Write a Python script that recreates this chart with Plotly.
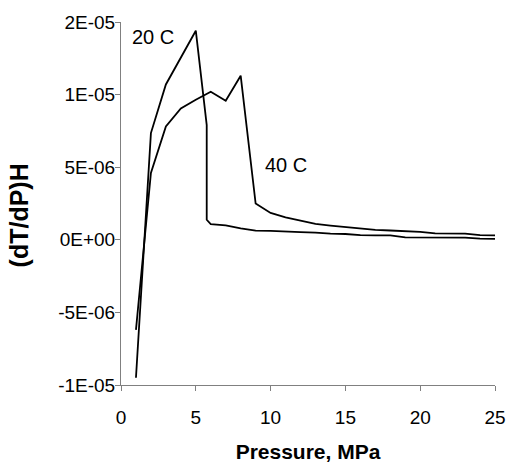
import plotly.graph_objects as go

# Pressure values (MPa)
p20 = [1, 2, 3, 4, 5, 5.73, 5.73, 6, 7, 8, 9, 10, 11, 12, 13, 14, 15, 16, 17, 18, 19, 20, 21, 22, 23, 24, 25]
jt20 = [-9.5e-6, 7.35e-6, 10.7e-6, 12.6e-6, 14.4e-6, 7.9e-6, 1.38e-6, 1.08e-6, 0.99e-6, 0.78e-6, 0.63e-6,
        0.62e-6, 0.60e-6, 0.53e-6, 0.50e-6, 0.42e-6, 0.40e-6, 0.32e-6, 0.31e-6, 0.30e-6, 0.17e-6,
        0.16e-6, 0.16e-6, 0.15e-6, 0.15e-6, 0.08e-6, 0.07e-6]

p40 = [1, 2, 3, 4, 5, 6, 7, 8, 9, 10, 11, 12, 13, 14, 15, 16, 17, 18, 19, 20, 21, 22, 23, 24, 25]
jt40 = [-6.2e-6, 4.6e-6, 7.8e-6, 9.05e-6, 9.65e-6, 10.2e-6, 9.58e-6, 11.3e-6, 2.5e-6, 1.85e-6, 1.55e-6,
        1.3e-6, 1.1e-6, 0.98e-6, 0.88e-6, 0.78e-6, 0.68e-6, 0.64e-6, 0.62e-6, 0.55e-6, 0.44e-6,
        0.43e-6, 0.42e-6, 0.32e-6, 0.30e-6]

y_tickvals = [-1e-5, -5e-6, 0, 5e-6, 1e-5, 1.5e-5]
y_ticktext = ["-1E-05", "-5E-06", "0E+00", "5E-06", "1E-05", "2E-05"]
x_tickvals = [0, 5, 10, 15, 20, 25]

FONT = "Liberation Sans, Arial, sans-serif"

fig = go.Figure()
fig.add_trace(go.Scatter(x=p20, y=jt20, mode="lines", name="20 C",
                         line=dict(color="black", width=1.8)))
fig.add_trace(go.Scatter(x=p40, y=jt40, mode="lines", name="40 C",
                         line=dict(color="black", width=1.8)))

fig.add_annotation(x=2.16, y=14.0e-6, xref="x", yref="y", text="20 C", showarrow=False,
                   font=dict(family=FONT, size=20, color="black"))
fig.add_annotation(x=11.03, y=5.15e-6, xref="x", yref="y", text="40 C", showarrow=False,
                   font=dict(family=FONT, size=20, color="black"))
fig.add_annotation(x=-0.272, y=0.468, xref="paper", yref="paper", text="<b>(dT/dP)H</b>",
                   showarrow=False, textangle=-90, xanchor="center", yanchor="middle",
                   font=dict(family=FONT, size=25, color="black"))

fig.update_layout(
    width=509, height=463,
    margin=dict(l=121, r=14, t=22, b=78, autoexpand=False),
    paper_bgcolor="white", plot_bgcolor="white",
    showlegend=False,
    font=dict(family=FONT, size=19, color="black"),
)
fig.update_xaxes(range=[0, 25], tickvals=x_tickvals, showgrid=False, zeroline=False,
                 showline=True, linecolor="#808080", linewidth=1,
                 ticks="outside", ticklen=5, tickcolor="#808080",
                 ticklabelstandoff=10, automargin=False,
                 title=dict(text="<b>Pressure, MPa</b>", font=dict(family=FONT, size=21), standoff=23))
fig.update_yaxes(range=[-1e-5, 1.5e-5], tickvals=y_tickvals, ticktext=y_ticktext,
                 showgrid=False, zeroline=False, automargin=False,
                 showline=True, linecolor="#808080", linewidth=1,
                 ticks="outside", ticklen=5, tickcolor="#808080",
                 ticklabelstandoff=-4)

fig.write_html("out.html", config={"displayModeBar": False},
               post_script="document.body.style.margin='0';document.body.style.overflow='hidden';")
